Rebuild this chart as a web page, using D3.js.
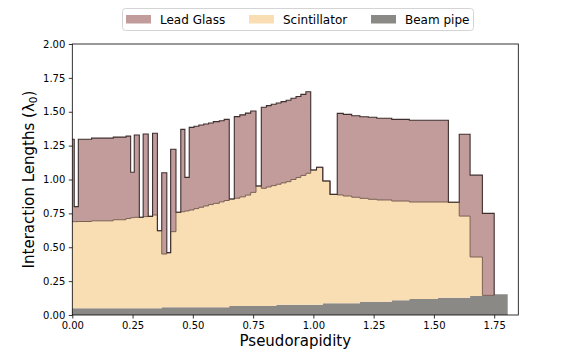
<!DOCTYPE html>
<html lang="en">
	<head>
		<meta charset="utf-8">
		<title>Interaction lengths vs pseudorapidity</title>
		<style type="text/css">
			body { margin: 0; background: #fff; }
			svg { font-family: "DejaVu Sans", sans-serif; }
			.tick text { font-size: 10px; fill: #000; }
			.tick line { stroke: #000; stroke-width: 0.8; }
		</style>
	</head>
	<body>

		<svg width="576" height="360"></svg>
		<script src="https://d3js.org/d3.v7.min.js"></script>
		<script>

		// bin edges in pseudorapidity (bins are not uniform)
		var edges = [0, 0.008, 0.025, 0.080, 0.170, 0.223, 0.242, 0.257, 0.278, 0.294,
			0.315, 0.333, 0.353, 0.371, 0.392, 0.408, 0.430, 0.450, 0.467, 0.485,
			0.505, 0.525, 0.545, 0.565, 0.585, 0.610, 0.630, 0.651, 0.672, 0.695,
			0.718, 0.740, 0.762, 0.784, 0.805, 0.825, 0.846, 0.866, 0.887, 0.907,
			0.928, 0.948, 0.969, 0.989, 1.013, 1.039, 1.069, 1.099, 1.124, 1.159,
			1.193, 1.228, 1.263, 1.325, 1.398, 1.517, 1.560, 1.605, 1.650, 1.701,
			1.750, 1.806];

		// interaction lengths per bin for each material (stacked: beam pipe, scintillator, lead glass)
		var beamPipe = [0.049, 0.049, 0.049, 0.049, 0.049, 0.049, 0.049, 0.049, 0.049, 0.049,
			0.049, 0.049, 0.049, 0.058, 0.058, 0.058, 0.058, 0.058, 0.058, 0.058,
			0.058, 0.058, 0.058, 0.058, 0.058, 0.058, 0.058, 0.066, 0.066, 0.066,
			0.066, 0.066, 0.066, 0.066, 0.066, 0.066, 0.075, 0.075, 0.075, 0.075,
			0.075, 0.075, 0.075, 0.075, 0.075, 0.086, 0.086, 0.086, 0.086, 0.086,
			0.097, 0.097, 0.097, 0.108, 0.118, 0.128, 0.128, 0.128, 0.140, 0.145,
			0.153];

		var scintillator = [0.640, 0.640, 0.641, 0.646, 0.654, 0.663, 0.669, 0.672, 0.672, 0.677,
			0.679, 0.689, 0.573, 0.392, 0.402, 0.557, 0.700, 0.704, 0.710, 0.717,
			0.727, 0.737, 0.747, 0.757, 0.766, 0.777, 0.787, 0.790, 0.796, 0.806,
			0.819, 0.839, 0.886, 0.869, 0.879, 0.889, 0.890, 0.900, 0.909, 0.925,
			0.940, 0.955, 0.971, 0.995, 1.015, 0.903, 0.804, 0.800, 0.792, 0.783,
			0.764, 0.757, 0.752, 0.733, 0.716, 0.706, 0.704, 0.602, 0.288, 0,
			0];

		var leadGlass = [0.608, 0.111, 0.607, 0.610, 0.610, 0.608, 0.335, 0.607, 0, 0.610,
			0, 0.603, 0, 0.600, 0, 0.608, 0, 0.608, 0.248, 0.610,
			0.608, 0.607, 0.605, 0.602, 0.603, 0.599, 0.599, 0, 0.602, 0.605,
			0.605, 0.600, 0, 0.598, 0.600, 0.600, 0.600, 0.600, 0.601, 0.600,
			0.597, 0.598, 0.602, 0, 0, 0, 0, 0.602, 0.603, 0.602,
			0.602, 0.605, 0.603, 0.603, 0.603, 0.603, 0, 0.604, 0.604, 0.605,
			0];

		var seriesNames = ["Lead Glass", "Scintillator", "Beam pipe"];
		var colors = {"Lead Glass": "#c29b9b", "Scintillator": "#f9deb4", "Beam pipe": "#8b8986"};
		var xTicks = [0, 0.25, 0.5, 0.75, 1.0, 1.25, 1.5, 1.75];
		var yTicks = [0, 0.25, 0.5, 0.75, 1.0, 1.25, 1.5, 1.75, 2.0];

		var svg = d3.select("svg");
		var margin = {left: 72.3, right: 518.3, top: 44, bottom: 315};

		var x = d3.scaleLinear().domain([0, 1.85]).range([margin.left, margin.right]);
		var y = d3.scaleLinear().domain([0, 2]).range([margin.bottom, margin.top]);

		// build one row per bin, with the running totals of the stack
		var bins = beamPipe.map(function(b, i) {
			var s = scintillator[i], l = leadGlass[i];
			return {x0: edges[i], x1: edges[i + 1], c0: b, c1: b + s, c2: b + s + l, lead: l};
		});

		// turn bins into step points (two per bin)
		function stepPoints(rows) {
			var pts = [];
			rows.forEach(function(d) {
				pts.push({x: d.x0, d: d});
				pts.push({x: d.x1, d: d});
			});
			return pts;
		}

		var pts = stepPoints(bins);

		function band(lo, hi) {
			return d3.area()
				.x(function(p) { return x(p.x); })
				.y0(function(p) { return y(lo(p.d)); })
				.y1(function(p) { return y(hi(p.d)); });
		}

		var plot = svg.append("g");

		plot.append("path")
			.attr("d", band(function(d) { return 0; }, function(d) { return d.c0; })(pts))
			.attr("fill", colors["Beam pipe"]);

		plot.append("path")
			.attr("d", band(function(d) { return d.c0; }, function(d) { return d.c1; })(pts))
			.attr("fill", colors["Scintillator"]);

		plot.append("path")
			.attr("d", band(function(d) { return d.c1; }, function(d) { return d.c2; })(pts))
			.attr("fill", colors["Lead Glass"]);

		// outlines: scintillator top and lead glass top (lead glass only up to where it ends)
		var withLead = bins.filter(function(d, i) { return i < bins.length - 1; });
		var leadPts = stepPoints(withLead);
		var line = function(acc) {
			return d3.line().x(function(p) { return x(p.x); }).y(function(p) { return y(acc(p.d)); });
		};

		plot.append("path")
			.attr("d", line(function(d) { return d.c1; })(leadPts))
			.attr("fill", "none")
			.attr("stroke", "#7a6152")
			.attr("stroke-width", 1);

		var last = withLead[withLead.length - 1];
		var leadOutline = leadPts.concat([{x: last.x1, d: {c2: last.c1}}]);
		plot.append("path")
			.attr("d", line(function(d) { return d.c2; })(leadOutline))
			.attr("fill", "none")
			.attr("stroke", "#3e2f2f")
			.attr("stroke-width", 1.1);

		// axes
		var xAxis = svg.append("g")
			.attr("transform", "translate(0," + margin.bottom + ")")
			.call(d3.axisBottom(x).tickValues(xTicks).tickFormat(d3.format(".2f"))
				.tickSize(3.5).tickPadding(3.5).tickSizeOuter(0));
		var yAxis = svg.append("g")
			.attr("transform", "translate(" + margin.left + ",0)")
			.call(d3.axisLeft(y).tickValues(yTicks).tickFormat(d3.format(".2f"))
				.tickSize(3.5).tickPadding(3.5).tickSizeOuter(0));
		svg.selectAll(".domain").remove();
		svg.selectAll(".tick text").attr("font-family", "DejaVu Sans").attr("font-size", 10);

		svg.append("rect")
			.attr("x", margin.left).attr("y", margin.top)
			.attr("width", margin.right - margin.left)
			.attr("height", margin.bottom - margin.top)
			.attr("fill", "none")
			.attr("stroke", "#000")
			.attr("stroke-width", 0.8);

		// axis labels
		svg.append("text")
			.attr("x", (margin.left + margin.right) / 2)
			.attr("y", 346)
			.attr("text-anchor", "middle")
			.attr("font-size", 15)
			.text("Pseudorapidity");

		var yl = svg.append("text")
			.attr("transform", "translate(34," + ((margin.top + margin.bottom) / 2) + ") rotate(-90)")
			.attr("text-anchor", "middle")
			.attr("font-size", 15);
		yl.append("tspan").text("Interaction Lengths (\u03bb");
		yl.append("tspan").attr("font-size", 10.5).attr("dy", 3).text("0");
		yl.append("tspan").attr("dy", -3).text(")");

		// legend on top
		var legend = svg.append("g");
		legend.append("rect")
			.attr("x", 122.5).attr("y", 8.5)
			.attr("width", 351).attr("height", 22)
			.attr("rx", 3)
			.attr("fill", "#fff")
			.attr("stroke", "#d4d4d4");

		var legendX = [126, 249, 371];
		seriesNames.forEach(function(name, i) {
			legend.append("rect")
				.attr("x", legendX[i]).attr("y", 15)
				.attr("width", 25).attr("height", 8.5)
				.attr("fill", colors[name]);
			legend.append("text")
				.attr("x", legendX[i] + 34).attr("y", 23.5)
				.attr("font-size", 12)
				.text(name);
		});

		</script>
	</body>
</html>
